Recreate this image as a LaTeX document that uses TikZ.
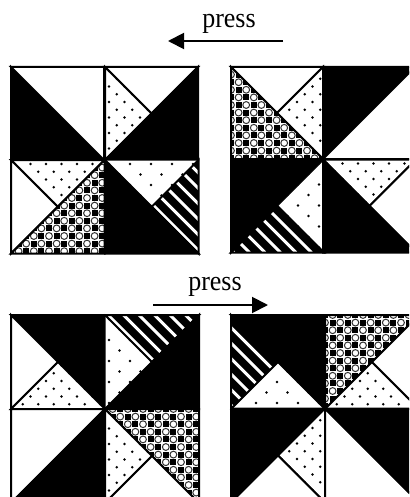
\documentclass[tikz,border=0pt]{standalone}
\usepackage{fontspec}
\setmainfont{Liberation Serif}
\usetikzlibrary{arrows.meta}
\tikzset{
  tri/.style={draw=black,line width=2pt,line join=miter},
  tritn/.style={draw=black,line width=1pt,line join=miter},
  lbl/.style={inner sep=0pt,anchor=base,font=\fontsize{26}{28}\selectfont},
  arr/.style={line width=1.9pt,-{Triangle[length=16pt,width=16pt]}},
}
\newcommand{\Sq}[3]{\def\ss{#3}
  \coordinate (TL) at (#1,#2);
  \coordinate (TR) at (#1+#3,#2);
  \coordinate (BL) at (#1,#2+#3);
  \coordinate (BR) at (#1+#3,#2+#3);
  \coordinate (Cn) at (#1+#3/2,#2+#3/2);
  \def\sx{#1}\def\sy{#2}}
\newcommand{\Tw}[3]{\draw[tri,fill=white] (#1)--(#2)--(#3)--cycle;}
\newcommand{\Tb}[3]{\draw[tri,fill=black] (#1)--(#2)--(#3)--cycle;}
\newcommand{\Td}[3]{\fill[white] (#1)--(#2)--(#3)--cycle;
  \begin{scope}\clip (#1)--(#2)--(#3)--cycle;
  \foreach \i in {0,...,6}\foreach \j in {0,...,12}{
    \fill[black] ({\sx+4+\i*15.5+mod(\j,2)*7.75},{\sy+4+\j*7.75}) circle (1.4);}
  \end{scope}
  \draw[tri] (#1)--(#2)--(#3)--cycle;}
\newcommand{\Te}[3]{\fill[white] (#1)--(#2)--(#3)--cycle;
  \begin{scope}\clip (#1)--(#2)--(#3)--cycle;
  \foreach \i in {0,...,5}\foreach \j in {0,...,9}{
    \fill[black] ({\sx+4+\i*21+mod(\j,2)*10.5},{\sy+4+\j*10.5}) circle (1.4);}
  \end{scope}
  \draw[tritn] (#1)--(#2)--(#3)--cycle;}
\newcommand{\Tc}[3]{\fill[white] (#1)--(#2)--(#3)--cycle;
  \begin{scope}\clip (#1)--(#2)--(#3)--cycle;
  \foreach \i in {0,...,12}\foreach \j in {0,...,12}{
    \pgfmathtruncatemacro\pp{mod(\i+\j,2)}
    \ifnum\pp=0
      \fill[black] ({\sx+\i*7.6-3},{\sy+\j*7.6-3}) rectangle ++(6,6);
    \else
      \draw[black!80,line width=1pt] ({\sx+\i*7.6},{\sy+\j*7.6}) circle (3.4);
    \fi}
  \end{scope}
  \draw[tri] (#1)--(#2)--(#3)--cycle;}
\newcommand{\Ts}[3]{\fill[black] (#1)--(#2)--(#3)--cycle;
  \begin{scope}\clip (#1)--(#2)--(#3)--cycle;
  \foreach \k in {-8,...,8}{
    \draw[white,line width=3pt] ({\sx+\k*15.5+3},\sy) -- ++(\ss,\ss);}
  \end{scope}
  \draw[tri] (#1)--(#2)--(#3)--cycle;}
\begin{document}
\begin{tikzpicture}[x=1pt,y=-1pt]
\useasboundingbox (0,0) rectangle (409,497);
\clip (0,0) rectangle (409,497);
\fill[white] (0,0) rectangle (409,497);
% Panel A
\Sq{11}{67}{93}
\Tb{TL}{BL}{BR}\Tw{TL}{TR}{BR}
\Sq{105}{67}{93}
\Tw{TL}{TR}{Cn}\Td{TL}{Cn}{BL}\Tb{TR}{BR}{BL}
\Sq{11}{160}{93.5}
\Td{TL}{TR}{Cn}\Tw{TL}{BL}{Cn}\Tc{TR}{BR}{BL}
\Sq{105}{160}{93.5}
\Te{TL}{TR}{Cn}\Ts{TR}{BR}{Cn}\Tb{TL}{BL}{BR}
% Panel B
\Sq{231}{67}{92}
\Tw{TL}{TR}{Cn}\Td{TR}{BR}{Cn}\Tc{TL}{BL}{BR}
\Sq{323}{67}{92}
\Tb{TL}{TR}{BL}\Tw{TR}{BR}{BL}
\Sq{231}{159.5}{93}
\Tb{TL}{TR}{BL}\Te{TR}{BR}{Cn}\Ts{BL}{BR}{Cn}
\Sq{323}{159.5}{93}
\Td{TL}{TR}{Cn}\Tw{TR}{BR}{Cn}\Tb{TL}{BL}{BR}
% Panel C
\Sq{11}{315}{94}
\Tb{TL}{TR}{BR}\Tw{TL}{BL}{Cn}\Td{BL}{BR}{Cn}
\Sq{105}{315}{94}
\Te{TL}{BL}{Cn}\Ts{TL}{TR}{Cn}\Tb{TR}{BR}{BL}
\Sq{11}{409}{94}
\Tw{TL}{TR}{BL}\Tb{TR}{BR}{BL}
\Sq{105}{409}{94}
\Tc{TL}{TR}{BR}\Td{TL}{BL}{Cn}\Tw{BL}{BR}{Cn}
% Panel D
\Sq{231}{315}{94}
\Te{BL}{BR}{Cn}\Ts{TL}{BL}{Cn}\Tb{TL}{TR}{BR}
\Sq{325}{315}{94}
\Tc{TL}{TR}{BL}\Td{BL}{BR}{Cn}\Tw{TR}{BR}{Cn}
\Sq{231}{408.5}{94}
\Tb{TL}{TR}{BL}\Td{TR}{BR}{Cn}\Tw{BL}{BR}{Cn}
\Sq{325}{408.5}{94}
\Tw{TL}{BL}{BR}\Tb{TL}{TR}{BR}
% Labels and arrows
\node[lbl] (pressA) at (229,28) {\scalebox{1}[1.08]{press}};
\node[lbl] (pressB) at (215,290) {\scalebox{1}[1.08]{press}};
\coordinate (a1) at (283,41);
\coordinate (a2) at (168,41);
\coordinate (b1) at (153,305);
\coordinate (b2) at (268,305);
\draw[arr] (a1) -- (a2);
\draw[arr] (b1) -- (b2);
\end{tikzpicture}
\end{document}
